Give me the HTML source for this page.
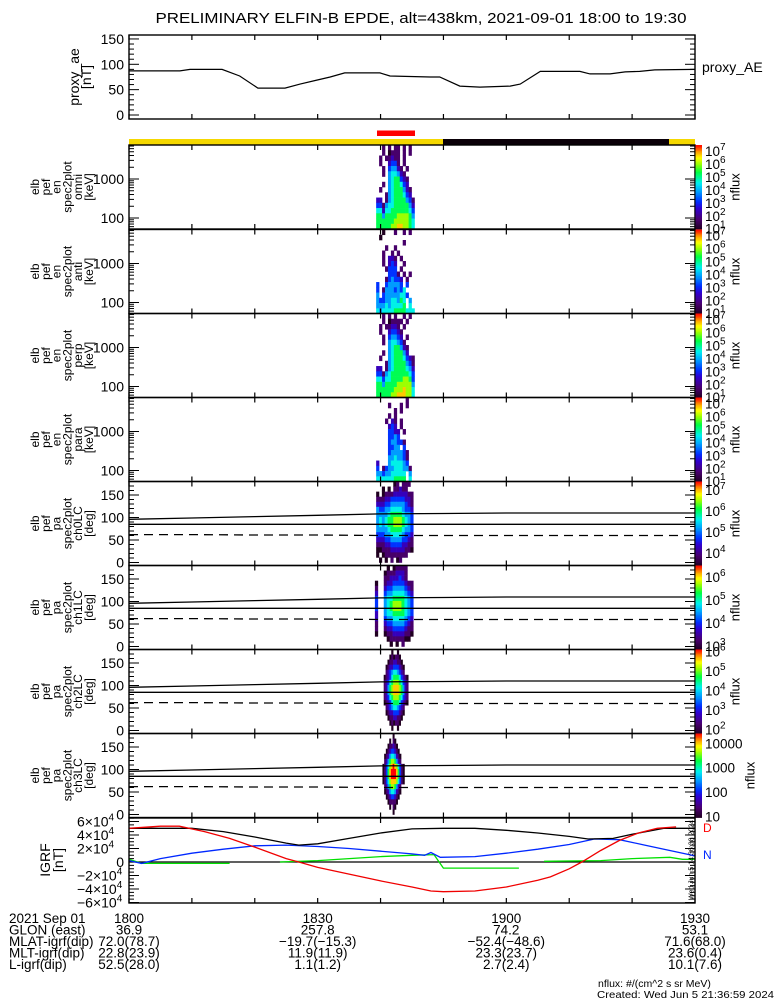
<!DOCTYPE html>
<html><head><meta charset="utf-8"><title>ELFIN-B EPDE summary</title>
<style>
html,body{margin:0;padding:0;background:#fff;}
svg{display:block;font-family:"Liberation Sans",sans-serif;}
</style></head>
<body>
<svg id="chart" width="775" height="1000" viewBox="0 0 775 1000" xmlns="http://www.w3.org/2000/svg">
<rect x="0" y="0" width="775" height="1000" fill="#fff"/>
<text x="421" y="23" text-anchor="middle" font-size="14.5" textLength="531" lengthAdjust="spacingAndGlyphs">PRELIMINARY ELFIN-B EPDE, alt=438km, 2021-09-01 18:00 to 19:30</text>
<text x="702" y="72" font-size="14">proxy_AE</text>
<g id="footer" font-size="13.5">
<text x="9" y="923">2021 Sep 01</text>
<text x="9" y="934.5">GLON (east)</text>
<text x="9" y="946">MLAT-igrf(dip)</text>
<text x="9" y="957.5">MLT-igrf(dip)</text>
<text x="9" y="969">L-igrf(dip)</text>
</g>
<text x="598" y="987" font-size="10.5">nflux: #/(cm^2 s sr MeV)</text>
<text x="597" y="998" font-size="10.5" textLength="177" lengthAdjust="spacingAndGlyphs">Created: Wed Jun  5 21:36:59 2024</text>
</svg>
<script>
// ---------- data ----------
const aeTimes=[0,8.1,9.7,14.8,17.6,20.5,24.8,27.2,29.6,32.0,34.3,39.9,41.5,47.9,49.4,52.6,55.8,60.6,62.2,65.4,71.7,73.3,76.5,78.9,81.2,83.6,90];
const aeValues=[87,87,90,90,77,53,53,61,68,75,83,83,77,75,75,57,55,57,61,86,86,81,81,85,86,89,90];
const aeTicks=[0,50,100,150];

const omniFlux=["..1.1.11.1.1.","..1.0111.1.1.",".1.11211.1...",".1..2331.1...","..1.34421.1..","..1.455421...","....4566321..","..1.4566532..",".1..45666421.","...145666532.","22.1456666431","3314556666642","5525566666653","6646666777764","6666667777765","6666677887765"];
const antiFlux=["..0...1..1.1.",".0...........",".........1...","...1..1......","..1..1.1.....","..1.221.1....","..1.232..1...","...1333.1....","....3331.1.1.","...134332.1..","3..344443.3..","3.14443435...","4.344444553..","4334455465.4.","4445455556.5.","5455556666555"];
const perpFlux=["..1.1.1..1.1.","..1.01111.1..",".1.11221.1...",".1..23321....","..1.34432.1..","..1.455431...","....4566421..","..1.4566642..",".1..456665321","...1456666431","22.1456666542","3314566666653","5535566667763","6646666777774","6666667778775","6666677888775"];
const paraFlux=["..........1..","....1...1.1..","......1.1....","....1.1......","...1.21.1....","....232.1....","....3322.1...","....3343.....","....344331...","....3344.3...","....3444431..","....4454431..","2...4555543..","3.1344555441.","4434455555.4.","5555556666.5."];
const ch0Flux=["......01.111.","..0.0.11211..","0.01112222211","1112233333221","2223344444321","4334455554332","4444566665443","4545667776543","4545667776543","4444566665443","3334455554332","2223344443321","1112233332211","0011122222110","0.011111111..",".0.0.1.01...."];
const ch1Flux=["....0.01111..","...01112221..","...11222321..","0..1223333211","1..2334444321","2..3445555432","3..4556666543","3..4567776543","3..4567776543","2..4556666543","2..3445555432","1..2334444321","1..1223333211","0..0112222110","....01111100.",".....0.0.1..."];
const ch2Flux=["....0..0.....","...010110....","..01122110...",".0122333210..",".1234554321..","0123566653210","1235677765321","1246788876421","1246788876421","1235677765321","0123566653210",".1234554321..",".0122333210..","..01122110...","...010110....","....0..0....."];
const ch3Flux=["......0......","....0.10.....","...011210....","..01233210...",".0124554210..",".1246776421..","0135789875310","0136899986310","0136899986310","0135788875310",".1246776421..",".0124554210..","..01233210...","...011110....","....0.10.....","......0......"];
const specStart=[39.3,39.3,39.3,39.3,39.3,39.1,40.5,40.3];
const specEnd=[45.4,45.4,45.4,45.4,45.2,45.2,44.4,43.8];

const lcTimes=[0,10,20,30,40,50,60,70,80,90];
const lcUpper=[96,99,102,105,108,109,110,110,110,110];
const lcLower=[85,85,85,85,85,85,85,85,85,85];
const lcDashed=[62,62,61,61,60,60,60,60,60,60];

const energyTicks=[100,1000];
const pitchTicks=[0,50,100,150];

const bTotTimes=[0,10,15,20,25,27,30,35,40,45,50,55,60,65,70,73,77,80,85,90];
const bTotVals=[50000,50000,45000,37000,28000,25000,27000,35000,43000,49000,50000,50000,47000,43000,38000,34000,35000,41000,50000,50000];
const bDTimes=[0,5,8,12,16,20,25,27,30,35,40,45,48,50,55,60,65,67,70,72,75,78,81,84,87];
const bDVals=[50000,53000,53000,45000,35000,22000,5000,0,-8000,-18000,-28000,-37000,-43000,-44000,-43000,-37000,-27000,-22000,-10000,0,17000,32000,43000,50000,52000];
const bNTimes=[0,2,5,10,15,20,25,30,35,40,45,47,48,49.5,55,60,65,70,74,78,82,86,90];
const bNVals=[2000,-2000,5000,13000,19000,24000,25000,23000,20000,16000,12000,10000,14000,7000,8000,13000,19000,26000,34000,33000,25000,17000,9000];
const bETimes=[0,2,16,null,24,30,35,40,45,48.5,50,62,null,66,75,80,86,88,90];
const bEVals=[4000,-2000,-2000,null,0,2000,5000,8000,10000,11000,-9000,-9000,null,1000,2000,5000,7000,4000,4000];
const igrfTicks=[-60000,-40000,-20000,0,20000,40000,60000];
const igrfTickLabels=["−6×10","−4×10","−2×10","0","2×10","4×10","6×10"];

const timeTickMinutes=[0,10,20,30,40,50,60,70,80,90];
const footTimes=[0,30,60,90];
const footHour=["1800","1830","1900","1930"];
const footGlon=["36.9","257.8","74.2","53.1"];
const footMlat=["72.0(78.7)","−19.7(−15.3)","−52.4(−48.6)","71.6(68.0)"];
const footMlt=["22.8(23.9)","11.9(11.9)","23.3(23.7)","23.6(0.4)"];
const footL=["52.5(28.0)","1.1(1.2)","2.7(2.4)","10.1(7.6)"];

const cbarExps=[[1,2,3,4,5,6,7],[1,2,3,4,5,6,7],[1,2,3,4,5,6,7],[1,2,3,4,5,6,7],[4,5,6,7],[3,4,5,6],[2,3,4,5,6],[1,2,3,4]];
const cbarRange=[[0.98,7.46],[0.98,7.46],[0.98,7.46],[0.98,7.46],[3.4,7.4],[2.85,6.5],[1.8,6.1],[0.96,4.4]];

// ---------- helpers ----------
const NS='http://www.w3.org/2000/svg';
const svg=document.getElementById('chart');
function mk(tag,attrs,parent){const e=document.createElementNS(NS,tag);for(const k in attrs)e.setAttribute(k,attrs[k]);(parent||svg).appendChild(e);return e;}
const X0=129,X1=695;
const xs=t=>X0+t*(X1-X0)/90;
const H=84;
const panelTops=[145,229.5,313.5,397.5,481.5,565.5,649.5,733.5];
const igrfTop=818,igrfBot=903;
const yAE=v=>115-v*0.507;
const yE=(T,E)=>T+34-(Math.log10(E)-3)*39;
const yP=(T,v)=>T+H-3-v*0.45;
const yB=v=>862-v*13.5/20000;
const stops=[[0,[32,0,32]],[0.12,[74,0,112]],[0.25,[48,0,208]],[0.33,[0,48,255]],[0.45,[0,160,255]],[0.55,[0,240,240]],[0.68,[0,255,64]],[0.78,[160,255,0]],[0.85,[255,255,0]],[0.92,[255,160,0]],[1,[255,0,0]]];
function cmap(c){c=Math.max(0,Math.min(1,c));for(let i=1;i<stops.length;i++){if(c<=stops[i][0]){const a=stops[i-1],b=stops[i];const f=(c-a[0])/(b[0]-a[0]);const r=a[1].map((v,k)=>Math.round(v+(b[1][k]-v)*f));return 'rgb('+r.join(',')+')';}}return 'rgb(255,0,0)';}
function path(times,vals,fx,fy){let d='',pen=false;for(let i=0;i<times.length;i++){if(vals[i]===null||times[i]===null){pen=false;continue;}d+=(pen?'L':'M')+fx(times[i]).toFixed(1)+' '+fy(vals[i]).toFixed(1);pen=true;}return d;}
function timeTicks(g,top,bot){
  for(const t of timeTickMinutes){
    const tk1=mk('line',{x1:xs(t),x2:xs(t),y1:top,y2:top+5,stroke:'#000','stroke-width':1.2},g);
    
    
    const tk2=mk('line',{x1:xs(t),x2:xs(t),y1:bot,y2:bot-5,stroke:'#000','stroke-width':1.2},g);
    
    
  }
}
function yTick(g,y,len){
  const a=mk('line',{x1:X0,x2:X0+len,y1:y,y2:y,stroke:'#000','stroke-width':1},g);
  
  
  const b=mk('line',{x1:X1,x2:X1-len,y1:y,y2:y,stroke:'#000','stroke-width':1},g);
  
  
}
function box(g,top,bot){
  const r=mk('rect',{x:X0,y:top,width:X1-X0,height:bot-top,fill:'none',stroke:'#000','stroke-width':1.4},g);
  
  
}
function ylabel(g,y,txt){
  const t=mk('text',{x:124,y:y+5,'text-anchor':'end','font-size':14},g);
  t.textContent=txt;
  
  
}
function sideLabel(g,lines,xStart,cy,fs,step){
  lines.forEach((s,i)=>{
    const x=xStart+i*step;
    const t=mk('text',{x:x,y:cy,'text-anchor':'middle','dominant-baseline':'central','font-size':fs,transform:'rotate(-90 '+x+' '+cy+')'},g);
    t.textContent=s;
    
    
  });
}

// ---------- top proxy AE panel ----------
const gAE=mk('g',{});


for(let v=0;v<=150;v+=10){yTick(gAE,yAE(v),v%50===0?10:5);}
aeTicks.forEach(v=>ylabel(gAE,yAE(v),String(v)));
timeTicks(gAE,35,119);
const aeLine=mk('path',{d:path(aeTimes,aeValues,xs,yAE),fill:'none',stroke:'#000','stroke-width':1.2},gAE);


box(gAE,35,119);
sideLabel(gAE,['proxy_ae','[nT]'],74,77,14,12);

// ---------- status bars ----------
const gBar=mk('g',{});


const yb=mk('rect',{x:X0,y:139,width:X1-X0,height:5.5,fill:'#f5d800'},gBar);


const bb=mk('rect',{x:443,y:139,width:226,height:5.5,fill:'#0a0008'},gBar);


const rb=mk('rect',{x:377,y:130.5,width:38,height:5.5,fill:'#f00'},gBar);



// ---------- spectrogram panels ----------
const fluxes=[omniFlux,antiFlux,perpFlux,paraFlux,ch0Flux,ch1Flux,ch2Flux,ch3Flux];
const specNames=['omni','anti','perp','para','ch0LC','ch1LC','ch2LC','ch3LC'];
const eLo=52,eHi=7450;
fluxes.forEach((mat,p)=>{
  const T=panelTops[p],B=T+H;
  const g=mk('g',{});
  
  
  const nr=mat.length,nc=mat[0].length;
  const dt=(specEnd[p]-specStart[p])/nc;
  for(let r=0;r<nr;r++){
    for(let c=0;c<nc;c++){
      const ch=mat[r][c];
      if(ch==='.'||ch===' ')continue;
      const x0=xs(specStart[p]+c*dt),x1=xs(specStart[p]+(c+1)*dt);
      let y0,y1;
      if(p<4){
        const k=nr-1-r;
        const e0=eLo*Math.pow(eHi/eLo,k/nr),e1=eLo*Math.pow(eHi/eLo,(k+1)/nr);
        y0=yE(T,e1);y1=yE(T,e0);
      }else{
        const v1=180-r*180/nr,v0=180-(r+1)*180/nr;
        y0=yP(T,v1);y1=yP(T,v0);
      }
      const cell=mk('rect',{x:x0.toFixed(2),y:y0.toFixed(2),width:(x1-x0+0.3).toFixed(2),height:(y1-y0+0.3).toFixed(2),fill:cmap(parseInt(ch)/9)},g);
      
      
    }
  }
  if(p<4){
    for(let dec=10;dec<=1000;dec*=10){for(let m=1;m<10;m++){const E=dec*m;const y=yE(T,E);if(y>T+0.5&&y<B-0.5)yTick(g,y,m===1?10:5);}}
    energyTicks.forEach(E=>ylabel(g,yE(T,E),String(E)));
    sideLabel(g,['elb','pef','en','spec2plot',specNames[p],'[keV]'],35,T+H/2,12,10.8);
  }else{
    for(let v=0;v<=180;v+=10){const y=yP(T,v);if(y>T+0.5)yTick(g,y,v%50===0?10:5);}
    pitchTicks.forEach(v=>ylabel(g,yP(T,v),String(v)));
    const l1=mk('path',{d:path(lcTimes,lcUpper,xs,v=>yP(T,v)),fill:'none',stroke:'#000','stroke-width':1.3},g);
    
    
    const l2=mk('path',{d:path(lcTimes,lcLower,xs,v=>yP(T,v)),fill:'none',stroke:'#000','stroke-width':1.3},g);
    
    
    const l3=mk('path',{d:path(lcTimes,lcDashed,xs,v=>yP(T,v)),fill:'none',stroke:'#000','stroke-width':1.3,'stroke-dasharray':'9,6'},g);
    
    
    sideLabel(g,['elb','pef','pa','spec2plot',specNames[p],'[deg]'],35,T+H/2,12,10.8);
  }
  timeTicks(g,T,B);
  box(g,T,B);
  // colorbar
  const cb=mk('g',{});
  
  
  const n=60;
  for(let i=0;i<n;i++){
    const s=mk('rect',{x:695.5,y:(B-(i+1)*H/n).toFixed(2),width:6.5,height:(H/n+0.4).toFixed(2),fill:cmap((i+0.5)/n)},cb);
    
    
  }
  const [lo,hi]=cbarRange[p];
  cbarExps[p].forEach(ex=>{
    const y=B-(ex-lo)/(hi-lo)*H;
    const t=mk('text',{x:705,y:(y+5).toFixed(1),'font-size':13.5},cb);
    if(p===7){t.textContent=String(Math.pow(10,ex));}
    else{
      t.textContent='10';
      const sp=mk('tspan',{dy:-6,'font-size':10},t);
      sp.textContent=String(ex);
    }
    
    
  });
  const nx=p===7?750:735,ny=T+H/2;
  const nf=mk('text',{x:nx,y:ny,'text-anchor':'middle','dominant-baseline':'central','font-size':13,transform:'rotate(-90 '+nx+' '+ny+')'},cb);
  nf.textContent='nflux';
  
  
});

// ---------- IGRF panel ----------
const gB=mk('g',{});


for(let v=-60000;v<=65000;v+=5000){yTick(gB,yB(v),v%20000===0?10:5);}
igrfTicks.forEach((v,i)=>{
  const y=yB(v);
  const t=mk('text',{x:v===0?124:77,y:(y+5).toFixed(1),'text-anchor':v===0?'end':'start','font-size':14},gB);
  t.textContent=igrfTickLabels[i];
  if(v!==0){const sp=mk('tspan',{dy:-6,'font-size':10},t);sp.textContent='4';}
  
  
});
const zl=mk('line',{x1:X0,x2:X1,y1:yB(0),y2:yB(0),stroke:'#000','stroke-width':1.3},gB);


const series=[[bETimes,bEVals,'#00e000','igrf-east-line'],[bNTimes,bNVals,'#0028ff','igrf-north-line'],[bTotTimes,bTotVals,'#000','igrf-total-line'],[bDTimes,bDVals,'#f00000','igrf-down-line']];
series.forEach(s=>{
  const pth=mk('path',{d:path(s[0],s[1],xs,yB),fill:'none',stroke:s[2],'stroke-width':1.3},gB);
  
  
});
timeTicks(gB,igrfTop,igrfBot);
box(gB,igrfTop,igrfBot);
sideLabel(gB,['IGRF','[nT]'],45,860,14,13);
const dl=mk('text',{x:703,y:832,'font-size':12,fill:'#f00'},gB);
dl.textContent='D';


const nl=mk('text',{x:703,y:859,'font-size':12,fill:'#0028ff'},gB);
nl.textContent='N';


const vt=mk('text',{x:692,y:860,'text-anchor':'middle','dominant-baseline':'central','font-size':7,transform:'rotate(-90 692 860)'},gB);
vt.textContent='Wed Jun  5 14:36:38 2024';



// ---------- footer values ----------
const footer=document.getElementById('footer');
const rows=[[footHour,923],[footGlon,934.5],[footMlat,946],[footMlt,957.5],[footL,969]];
rows.forEach(r=>{
  r[0].forEach((s,i)=>{
    const t=mk('text',{x:xs(footTimes[i]).toFixed(1),y:r[1],'text-anchor':'middle'},footer);
    t.textContent=s;
    
    
  });
});
</script>
</body></html>
